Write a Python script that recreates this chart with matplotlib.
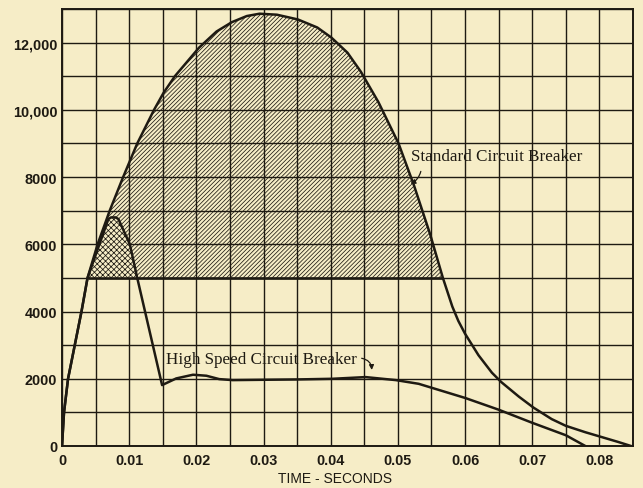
import matplotlib
matplotlib.use("Agg")
import matplotlib.pyplot as plt
import numpy as np

# ---- data ----
std_t = [0.0, 0.0003, 0.0009, 0.0019, 0.0029, 0.0038, 0.0053, 0.0071, 0.0091, 0.0112,
         0.0137, 0.0151, 0.0168, 0.0204, 0.0230, 0.0253, 0.0275, 0.0294, 0.0320, 0.0351,
         0.0380, 0.0401, 0.0425, 0.0445, 0.0471, 0.0501, 0.0524, 0.0548, 0.0567, 0.0581,
         0.0590, 0.0600, 0.0620, 0.0640, 0.0654, 0.0680, 0.0702, 0.0729, 0.0750, 0.0779,
         0.0801, 0.0828, 0.0847]
std_a = [0, 1000, 2000, 3000, 4000, 5000, 6000, 7000, 8000, 9000,
         10000, 10500, 11000, 11850, 12330, 12610, 12790, 12860, 12830, 12690,
         12450, 12150, 11700, 11130, 10230, 9000, 7750, 6300, 5000, 4150,
         3720, 3340, 2700, 2180, 1900, 1470, 1140, 800, 600, 410,
         280, 120, 0]

hs_t = [0.0, 0.0003, 0.0009, 0.0019, 0.0029, 0.0038, 0.0069, 0.0073, 0.0080, 0.0084,
        0.0101, 0.0112, 0.0149, 0.0170, 0.0195, 0.0215, 0.0234, 0.0254, 0.0300, 0.0350,
        0.0403, 0.0452, 0.0497, 0.0531, 0.0600, 0.0650, 0.0700, 0.0750, 0.0779]
hs_a = [0, 1000, 2000, 3000, 4000, 5000, 6750, 6800, 6800, 6750,
        6000, 5000, 1812, 2010, 2120, 2090, 1990, 1960, 1970, 1980,
        2000, 2050, 1960, 1850, 1430, 1080, 690, 320, 0]

threshold = 5000
x_ticks = [0, 0.01, 0.02, 0.03, 0.04, 0.05, 0.06, 0.07, 0.08]
x_labels = ["0", "0.01", "0.02", "0.03", "0.04", "0.05", "0.06", "0.07", "0.08"]
y_ticks = [0, 2000, 4000, 6000, 8000, 10000, 12000]
y_labels = ["0", "2000", "4000", "6000", "8000", "10,000", "12,000"]

std_label = "Standard Circuit Breaker"
hs_label = "High Speed Circuit Breaker"
x_title = "TIME - SECONDS"

# ---- style ----
BG = "#f6edc7"
INK = "#1e1a12"
plt.rcParams["hatch.linewidth"] = 0.55
plt.rcParams["hatch.color"] = INK

fig = plt.figure(figsize=(6.43, 4.89), dpi=100, facecolor=BG)
ax = fig.add_axes([62/643, 42/489, 571/643, 437/489])
ax.set_facecolor(BG)

st = np.array(std_t); sa = np.array(std_a)
ht = np.array(hs_t); ha = np.array(hs_a)

# hatched areas above threshold
ax.fill_between(st, threshold, sa, where=sa >= threshold, interpolate=True,
                facecolor="none", edgecolor=INK, hatch="/" * 8, linewidth=0, zorder=2)
ax.fill_between(ht, threshold, ha, where=ha >= threshold, interpolate=True,
                facecolor=BG, edgecolor=INK, hatch="x" * 6, linewidth=0, zorder=3)

ax.hlines(threshold, 0.0038, 0.0567, color=INK, lw=1.9, zorder=4)

ax.plot(st, sa, color=INK, lw=1.8, zorder=5, solid_joinstyle="round")
ax.plot(ht, ha, color=INK, lw=1.8, zorder=5, solid_joinstyle="round")

ax.set_xlim(0, 0.0847)
ax.set_ylim(0, 13000)
ax.set_xticks(x_ticks)
ax.set_xticklabels(x_labels)
ax.set_yticks(y_ticks)
ax.set_yticklabels(y_labels)
ax.set_xticks(np.arange(0, 0.0851, 0.005), minor=True)
ax.set_yticks(np.arange(0, 13001, 1000), minor=True)
ax.grid(True, which="both", color=INK, lw=1.0, zorder=1)
ax.set_axisbelow(True)
ax.tick_params(which="both", length=0)
ax.tick_params(axis="y", pad=3.5)
ax.tick_params(axis="x", pad=5)
for lab in ax.get_xticklabels() + ax.get_yticklabels():
    lab.set_fontfamily("Liberation Sans")
    lab.set_fontsize(10.4)
    lab.set_fontweight("bold")
    lab.set_color(INK)
for sp in ax.spines.values():
    sp.set_color(INK)
    sp.set_linewidth(1.4)

# annotations
ax.text(0.0519, 8520, std_label, family="Liberation Serif", fontsize=12.3,
        color=INK, ha="left", va="baseline", zorder=6)
ax.annotate("", xy=(0.0515, 7770), xytext=(0.0535, 8250),
            arrowprops=dict(arrowstyle="-|>", color=INK, lw=0.9, mutation_scale=7,
                            connectionstyle="arc3,rad=-0.3"), zorder=6)
ax.text(0.01543, 2460, hs_label, family="Liberation Serif", fontsize=12.3,
        color=INK, ha="left", va="baseline", zorder=6)
ax.annotate("", xy=(0.0461, 2180), xytext=(0.0442, 2620),
            arrowprops=dict(arrowstyle="-|>", color=INK, lw=0.9, mutation_scale=7,
                            connectionstyle="arc3,rad=-0.5"), zorder=6)

fig.text(334.5/643, 1 - 479/489, x_title, family="Liberation Sans", fontsize=10,
         color=INK, ha="center", va="center")

fig.savefig("out.png", dpi=100, facecolor=BG)
